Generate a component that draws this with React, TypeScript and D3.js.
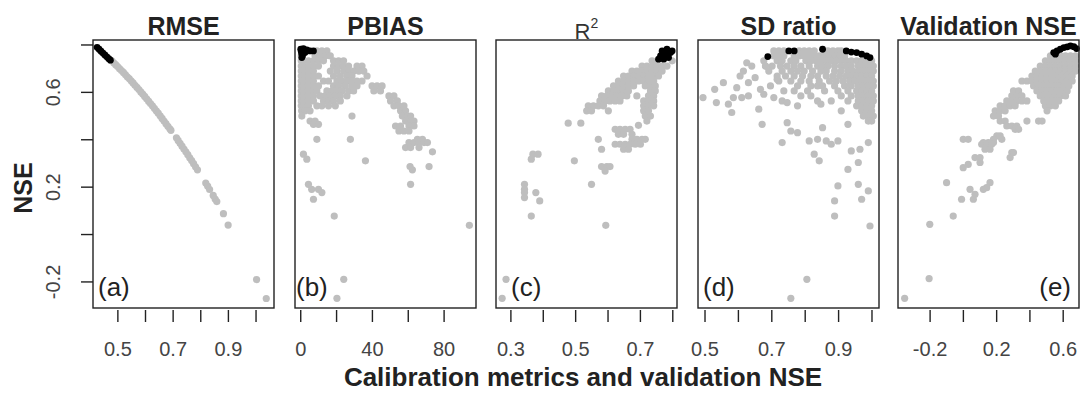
import React, { useRef, useEffect } from 'react';
import { select, scaleLinear } from 'd3';

type Pt = [number, number];
type Row = [number, number[]];

// panel titles / tags
const titles = ['RMSE', 'PBIAS', 'R', 'SD ratio', 'Validation NSE'];
const panelTags = ['(a)', '(b)', '(c)', '(d)', '(e)'];

// axes
const nseTicks = [-0.2, 0, 0.2, 0.4, 0.6, 0.8];
const nseLabels = [-0.2, 0.2, 0.6];
const xTicks = [
  [0.5, 0.6, 0.7, 0.8, 0.9, 1.0],
  [0, 20, 40, 60, 80],
  [0.3, 0.4, 0.5, 0.6, 0.7, 0.8],
  [0.5, 0.6, 0.7, 0.8, 0.9, 1.0],
  [-0.2, 0, 0.2, 0.4, 0.6]
];
const xLabels = [
  [0.5, 0.7, 0.9],
  [0, 40, 80],
  [0.3, 0.5, 0.7],
  [0.5, 0.7, 0.9],
  [-0.2, 0.2, 0.6]
];
const xDomains = [
  [0.41, 1.065],
  [-3.2, 97.8],
  [0.254, 0.813],
  [0.479, 1.021],
  [-0.393, 0.695]
];

/* (a) RMSE vs NSE */
const rmseBlack: Pt[] = [
  [0.425, 0.79], [0.432, 0.782], [0.439, 0.774], [0.446, 0.766], [0.453, 0.758],
  [0.46, 0.75], [0.467, 0.742], [0.473, 0.736]
];
const rmseGray: Pt[] = [
  [0.478, 0.733], [0.485, 0.725], [0.492, 0.717], [0.499, 0.709], [0.506, 0.7],
  [0.513, 0.692], [0.52, 0.684], [0.527, 0.675], [0.534, 0.666], [0.541, 0.658],
  [0.548, 0.649], [0.555, 0.64], [0.562, 0.63], [0.569, 0.621], [0.576, 0.612],
  [0.583, 0.602], [0.59, 0.593], [0.597, 0.583], [0.604, 0.573], [0.611, 0.563],
  [0.618, 0.553], [0.625, 0.543], [0.632, 0.533], [0.639, 0.522], [0.646, 0.512],
  [0.653, 0.501], [0.66, 0.49], [0.667, 0.479], [0.674, 0.468], [0.681, 0.457],
  [0.688, 0.446], [0.692, 0.44],
  [0.712, 0.408], [0.718, 0.397], [0.725, 0.385], [0.732, 0.373], [0.739, 0.361],
  [0.746, 0.349], [0.753, 0.337], [0.76, 0.324], [0.767, 0.312], [0.774, 0.299],
  [0.781, 0.286], [0.788, 0.273],
  [0.818, 0.217], [0.825, 0.204], [0.832, 0.19], [0.845, 0.165], [0.852, 0.15],
  [0.858, 0.139], [0.882, 0.088], [0.899, 0.04], [1.002, -0.19], [1.037, -0.27]
];

/* (b) PBIAS vs NSE */
const pbiasBlack: Pt[] = [
  [0, 0.782], [1.5, 0.785], [3.4, 0.779], [5.2, 0.775], [7.1, 0.775],
  [0.6, 0.761], [0.6, 0.747], [2.4, 0.768], [0.3, 0.772], [1, 0.755]
];
const pbiasGray: Row[] = [
  [0.775, [9.0, 11.8, 14.6]],
  [0.754, [0.3, 8.0, 10.8, 13.7, 16.5]],
  [0.733, [0.3, 1.5, 4.3, 7.1, 9.9, 12.7, 18.3, 21.1, 23.9]],
  [0.711, [0.3, 1.5, 4.3, 7.1, 9.9, 18.3, 21.1, 23.9, 26.7, 31.4, 34.2]],
  [0.69, [0.3, 1.5, 4.3, 7.1, 16.5, 20.2, 23.9, 26.7, 29.5, 32.4, 35.2]],
  [0.669, [0.3, 1.5, 4.3, 7.1, 9.9, 18.3, 22.1, 25.8, 28.6, 37.0]],
  [0.648, [0.3, 1.5, 4.3, 7.1, 12.7, 15.5, 20.2, 23.0, 25.8, 28.6, 31.4, 34.2]],
  [0.627, [0.3, 1.5, 4.3, 7.1, 9.9, 18.3, 21.1, 24.9, 28.6, 31.4, 39.8, 42.6, 45.4]],
  [0.606, [0.3, 1.5, 4.3, 7.1, 9.0, 14.6, 17.4, 20.2, 23.0, 26.7, 29.5, 40.8, 44.5]],
  [0.585, [0.3, 1.5, 4.3, 7.1, 10.8, 13.7, 16.5, 19.3, 22.1, 25.8, 49.2, 52.0]],
  [0.564, [0.3, 1.5, 4.3, 7.1, 12.7, 15.5, 18.3, 22.1, 50.1, 53.9]],
  [0.543, [0.3, 1.5, 4.3, 9.0, 11.8, 15.5, 19.3, 52.0, 54.8, 57.6]],
  [0.522, [0.5, 2.4, 5.2, 55.7, 58.5]],
  [0.5, [0.6, 28.6, 56.7, 59.5, 61.3]],
  [0.479, [5.2, 8.0, 58.5, 61.3, 63.2]],
  [0.465, [7.1, 9.9]],
  [0.458, [52.9, 55.7, 60.4, 63.2]],
  [0.437, [54.8, 57.6, 60.4]],
  [0.402, [9.0, 27.7, 65.1, 67.9]],
  [0.388, [60.4, 63.2, 66.0, 68.8, 70.7]],
  [0.367, [58.5, 61.3, 66.0]],
  [0.349, [73.5]],
  [0.339, [1.5]],
  [0.318, [3.4]],
  [0.311, [36.1]],
  [0.287, [61.0, 71.6]],
  [0.273, [62.3]],
  [0.212, [4.3, 61.3]],
  [0.191, [6.1, 9.9]],
  [0.177, [11.8]],
  [0.149, [7.1]],
  [0.078, [18.7]],
  [0.039, [94.1]],
  [-0.189, [24.0]],
  [-0.269, [20.2]]
];

/* (c) R2 vs NSE */
const r2Black: Pt[] = [
  [0.767, 0.775], [0.782, 0.782], [0.798, 0.775], [0.762, 0.754], [0.777, 0.761],
  [0.793, 0.768], [0.772, 0.74], [0.787, 0.747], [0.756, 0.74]
];
const r2Gray: Row[] = [
  [0.733, [0.736, 0.751, 0.798]],
  [0.711, [0.705, 0.72, 0.736, 0.751, 0.767, 0.782]],
  [0.69, [0.674, 0.689, 0.705, 0.72, 0.736, 0.751, 0.767]],
  [0.669, [0.648, 0.663, 0.679, 0.694, 0.71, 0.725, 0.741, 0.756]],
  [0.648, [0.632, 0.648, 0.663, 0.679, 0.694, 0.71, 0.725, 0.741]],
  [0.627, [0.617, 0.632, 0.648, 0.663, 0.679, 0.715, 0.731, 0.746]],
  [0.606, [0.601, 0.617, 0.632, 0.648, 0.663, 0.731, 0.746]],
  [0.585, [0.58, 0.596, 0.612, 0.627, 0.643, 0.658, 0.689, 0.725, 0.741]],
  [0.564, [0.575, 0.591, 0.606, 0.622, 0.637, 0.71, 0.725, 0.741]],
  [0.543, [0.539, 0.555, 0.57, 0.586, 0.71, 0.725, 0.741]],
  [0.522, [0.534, 0.549, 0.601, 0.71, 0.725]],
  [0.5, [0.715, 0.731]],
  [0.479, [0.72]],
  [0.47, [0.477, 0.516]],
  [0.461, [0.694]],
  [0.444, [0.622, 0.637, 0.653, 0.668]],
  [0.423, [0.632, 0.648, 0.674]],
  [0.402, [0.57, 0.674, 0.689, 0.705, 0.715]],
  [0.381, [0.622, 0.637, 0.653, 0.668, 0.684, 0.7]],
  [0.36, [0.58, 0.648, 0.663]],
  [0.339, [0.368, 0.384]],
  [0.318, [0.363]],
  [0.311, [0.496]],
  [0.287, [0.58, 0.596, 0.606]],
  [0.268, [0.591]],
  [0.212, [0.342, 0.549]],
  [0.191, [0.342]],
  [0.177, [0.342, 0.377]],
  [0.156, [0.342]],
  [0.142, [0.389]],
  [0.078, [0.363]],
  [0.039, [0.593]],
  [-0.189, [0.285]],
  [-0.269, [0.273]]
];

/* (d) SD ratio vs NSE */
const sdBlack: Pt[] = [
  [0.688, 0.751], [0.751, 0.775], [0.767, 0.775], [0.852, 0.782], [0.923, 0.775],
  [0.938, 0.77], [0.954, 0.768], [0.969, 0.761], [0.984, 0.754], [0.994, 0.747]
];
const sdGray: Row[] = [
  [0.775, [0.706, 0.721, 0.736, 0.782, 0.797, 0.812, 0.827, 0.868, 0.883, 0.898, 0.908]],
  [0.754, [0.706, 0.721, 0.736, 0.767, 0.782, 0.797, 0.812, 0.827, 0.842, 0.858, 0.873, 0.888, 0.903, 0.918]],
  [0.733, [0.676, 0.716, 0.731, 0.757, 0.772, 0.802, 0.817, 0.832, 0.847, 0.863, 0.878, 0.893, 0.908, 0.923, 0.938, 0.954, 0.969, 0.984, 0.999]],
  [0.711, [0.681, 0.701, 0.726, 0.746, 0.767, 0.787, 0.812, 0.837, 0.852, 0.868, 0.888, 0.908, 0.923, 0.938, 0.959, 0.974, 0.989, 1.004]],
  [0.69, [0.691, 0.731, 0.757, 0.777, 0.797, 0.822, 0.847, 0.863, 0.888, 0.908, 0.928, 0.943, 0.959, 0.974, 0.989, 1.004]],
  [0.669, [0.716, 0.741, 0.767, 0.792, 0.817, 0.837, 0.863, 0.883, 0.903, 0.923, 0.938, 0.954, 0.969, 0.984, 0.999]],
  [0.648, [0.721, 0.757, 0.787, 0.812, 0.842, 0.873, 0.893, 0.913, 0.933, 0.948, 0.964, 0.979, 0.994, 1.004]],
  [0.627, [0.777, 0.817, 0.837, 0.852, 0.888, 0.918, 0.938, 0.959, 0.974, 0.989, 1.004]],
  [0.606, [0.736, 0.767, 0.807, 0.858, 0.898, 0.928, 0.954, 0.969, 0.984, 0.999]],
  [0.585, [0.787, 0.817, 0.908, 0.938, 0.959, 0.974, 0.989, 1.004]],
  [0.564, [0.837, 0.878, 0.928, 0.959, 0.974, 0.989, 1.004]],
  [0.543, [0.954, 0.969, 0.984, 0.999]],
  [0.522, [0.969, 0.984, 0.999]],
  [0.5, [0.974, 0.989, 1.004]],
  [0.479, [0.989, 0.999]]
];
const sdScatter: Pt[] = [
  [0.494, 0.578], [0.529, 0.613], [0.534, 0.557], [0.555, 0.641], [0.57, 0.55],
  [0.58, 0.515], [0.585, 0.578], [0.595, 0.62], [0.605, 0.669], [0.615, 0.69],
  [0.625, 0.725], [0.63, 0.641], [0.64, 0.711], [0.61, 0.578], [0.63, 0.585],
  [0.65, 0.662], [0.666, 0.613], [0.676, 0.592], [0.661, 0.529], [0.671, 0.465],
  [0.706, 0.578], [0.731, 0.564], [0.746, 0.557], [0.777, 0.543], [0.731, 0.388],
  [0.746, 0.472], [0.757, 0.437], [0.777, 0.43], [0.812, 0.395], [0.837, 0.402],
  [0.863, 0.395], [0.878, 0.381], [0.898, 0.395], [0.827, 0.339], [0.842, 0.311],
  [0.852, 0.451], [0.847, 0.55], [0.908, 0.522], [0.928, 0.465], [0.938, 0.353],
  [0.964, 0.36], [0.928, 0.275], [0.959, 0.304], [0.989, 0.388], [0.898, 0.205],
  [0.959, 0.212], [0.969, 0.149], [0.989, 0.184], [0.888, 0.142], [0.888, 0.078],
  [0.994, 0.036], [0.805, -0.189], [0.757, -0.269], [0.696, 0.627], [0.716, 0.655],
  [0.681, 0.711]
];

/* (e) Validation NSE vs NSE */
const valBlack: Pt[] = [
  [0.543, 0.768], [0.563, 0.775], [0.583, 0.782], [0.604, 0.789], [0.624, 0.792],
  [0.644, 0.796], [0.664, 0.793], [0.68, 0.785], [0.553, 0.761]
];
const valGray: Row[] = [
  [0.754, [0.523, 0.553, 0.583, 0.614, 0.644, 0.674]],
  [0.733, [0.493, 0.523, 0.553, 0.583, 0.614, 0.644, 0.674]],
  [0.711, [0.462, 0.493, 0.523, 0.553, 0.583, 0.614, 0.644, 0.674]],
  [0.69, [0.432, 0.462, 0.493, 0.523, 0.553, 0.583, 0.614, 0.644, 0.674]],
  [0.669, [0.412, 0.442, 0.473, 0.503, 0.533, 0.563, 0.594, 0.624, 0.654]],
  [0.648, [0.352, 0.382, 0.412, 0.442, 0.473, 0.503, 0.533, 0.563, 0.594, 0.624, 0.654]],
  [0.627, [0.422, 0.452, 0.483, 0.513, 0.543, 0.573, 0.604, 0.634]],
  [0.606, [0.301, 0.332, 0.442, 0.473, 0.503, 0.533, 0.563, 0.594, 0.624]],
  [0.585, [0.291, 0.321, 0.352, 0.462, 0.493, 0.523, 0.553, 0.583, 0.614]],
  [0.564, [0.261, 0.291, 0.321, 0.352, 0.382, 0.483, 0.513, 0.543, 0.573]],
  [0.543, [0.221, 0.251, 0.281, 0.311, 0.493, 0.523, 0.553]],
  [0.522, [0.191, 0.221, 0.251, 0.503]],
  [0.5, [0.181, 0.211]],
  [0.479, [0.221, 0.251, 0.382, 0.452, 0.473]],
  [0.458, [0.261, 0.291, 0.321]],
  [0.444, [0.311, 0.332]],
  [0.416, [0.201, 0.221]],
  [0.402, [-0.001, 0.029, 0.181, 0.231]],
  [0.388, [0.12, 0.15, 0.181]],
  [0.381, [0.11, 0.14, 0.17]],
  [0.36, [0.13, 0.16]],
  [0.346, [0.291, 0.301]],
  [0.325, [0.07, 0.1, 0.281]],
  [0.304, [0.1]],
  [0.296, [0.029]],
  [0.282, [-0.001]],
  [0.219, [-0.101, 0.16]],
  [0.198, [0.14]],
  [0.191, [0.12, 0.04]],
  [0.17, [0.07]],
  [0.149, [-0.011, 0.06]],
  [0.078, [-0.061]],
  [0.043, [-0.202]],
  [-0.186, [-0.206]],
  [-0.269, [-0.353]]
];

const rowsToPts = (rows: Row[]): Pt[] =>
  rows.flatMap(([nse, xs]) => xs.map(x => [x, nse] as Pt));

const grayPts: Pt[][] = [
  rmseGray,
  rowsToPts(pbiasGray),
  rowsToPts(r2Gray),
  rowsToPts(sdGray).concat(sdScatter),
  rowsToPts(valGray)
];
const blackPts: Pt[][] = [rmseBlack, pbiasBlack, r2Black, sdBlack, valBlack];

const FONT = "'Liberation Sans', Arial, Helvetica, sans-serif";
const lefts = [93, 295, 496, 698, 898];
const panelW = 181;
const top = 40;
const bottom = 308;
const tagOffsets = [5, 1, 15, 5];

export default function App() {
  const svgRef = useRef<SVGSVGElement>(null);

  useEffect(() => {
    const svg = select(svgRef.current);
    svg.selectAll('*').remove();
    svg.append('rect').attr('width', 1081).attr('height', 393).attr('fill', 'white');

    const y = scaleLinear().domain([-0.31, 0.821]).range([bottom, top]);

    lefts.forEach((left, i) => {
      const x = scaleLinear().domain(xDomains[i]).range([left, left + panelW]);
      const g = svg.append('g');

      /* Points */
      g.selectAll('.gray')
        .data(grayPts[i])
        .join('circle')
        .attr('class', 'gray')
        .attr('r', 3.6)
        .attr('fill', '#bebebe')
        .attr('cx', d => x(d[0]))
        .attr('cy', d => y(d[1]));

      g.selectAll('.best')
        .data(blackPts[i])
        .join('circle')
        .attr('class', 'best')
        .attr('r', 3.4)
        .attr('fill', '#000')
        .attr('cx', d => x(d[0]))
        .attr('cy', d => y(d[1]));

      /* Box */
      g.append('rect')
        .attr('x', left)
        .attr('y', top)
        .attr('width', panelW)
        .attr('height', bottom - top)
        .attr('fill', 'none')
        .attr('stroke', '#222')
        .attr('stroke-width', 1.4);

      /* X ticks */
      g.selectAll('.xtick')
        .data(xTicks[i])
        .join('line')
        .attr('class', 'xtick')
        .attr('x1', d => x(d))
        .attr('x2', d => x(d))
        .attr('y1', bottom + 2)
        .attr('y2', bottom + 14)
        .attr('stroke', '#222')
        .attr('stroke-width', 1.4);

      g.selectAll('.xlab')
        .data(xLabels[i])
        .join('text')
        .attr('class', 'xlab')
        .attr('x', d => x(d))
        .attr('y', 356)
        .attr('text-anchor', 'middle')
        .attr('font-family', FONT)
        .attr('font-size', 20)
        .attr('fill', '#444')
        .text(d => String(d));

      /* Title */
      const cx = left + panelW / 2;
      if (i === 2) {
        g.append('text')
          .attr('x', cx - 4)
          .attr('y', 39)
          .attr('text-anchor', 'middle')
          .attr('font-family', FONT)
          .attr('font-size', 22)
          .attr('fill', '#333')
          .text(titles[i]);
        g.append('text')
          .attr('x', cx + 4)
          .attr('y', 28)
          .attr('font-family', FONT)
          .attr('font-size', 14)
          .attr('fill', '#333')
          .text('2');
      } else {
        g.append('text')
          .attr('x', cx)
          .attr('y', 35)
          .attr('text-anchor', 'middle')
          .attr('font-family', FONT)
          .attr('font-size', 25)
          .attr('font-weight', 'bold')
          .attr('fill', '#222')
          .text(titles[i]);
      }

      /* Tag */
      const isLast = i === 4;
      g.append('text')
        .attr('x', isLast ? left + panelW - 8 : left + tagOffsets[i])
        .attr('y', 296)
        .attr('text-anchor', isLast ? 'end' : 'start')
        .attr('font-family', FONT)
        .attr('font-size', 26)
        .attr('fill', '#222')
        .text(panelTags[i]);
    });

    /* Y axis on first panel */
    const ax = svg.append('g');
    ax.selectAll('.ytick')
      .data(nseTicks)
      .join('line')
      .attr('class', 'ytick')
      .attr('x1', lefts[0] - 12)
      .attr('x2', lefts[0])
      .attr('y1', d => y(d))
      .attr('y2', d => y(d))
      .attr('stroke', '#222')
      .attr('stroke-width', 1.4);

    ax.selectAll('.ylab')
      .data(nseLabels)
      .join('text')
      .attr('class', 'ylab')
      .attr('transform', d => `translate(60,${y(d)}) rotate(-90)`)
      .attr('text-anchor', 'middle')
      .attr('font-family', FONT)
      .attr('font-size', 20)
      .attr('fill', '#444')
      .text(d => String(d));

    svg.append('text')
      .attr('transform', `translate(32,188) rotate(-90)`)
      .attr('text-anchor', 'middle')
      .attr('font-family', FONT)
      .attr('font-size', 25)
      .attr('font-weight', 'bold')
      .attr('fill', '#222')
      .text('NSE');

    svg.append('text')
      .attr('x', 583)
      .attr('y', 386)
      .attr('text-anchor', 'middle')
      .attr('font-family', FONT)
      .attr('font-size', 26)
      .attr('font-weight', 'bold')
      .attr('fill', '#222')
      .text('Calibration metrics and validation NSE');
  }, []);

  return (
    <svg
      ref={svgRef}
      width={1081}
      height={393}
      style={{ position: 'absolute', left: 0, top: 0 }}
    />
  );
}
